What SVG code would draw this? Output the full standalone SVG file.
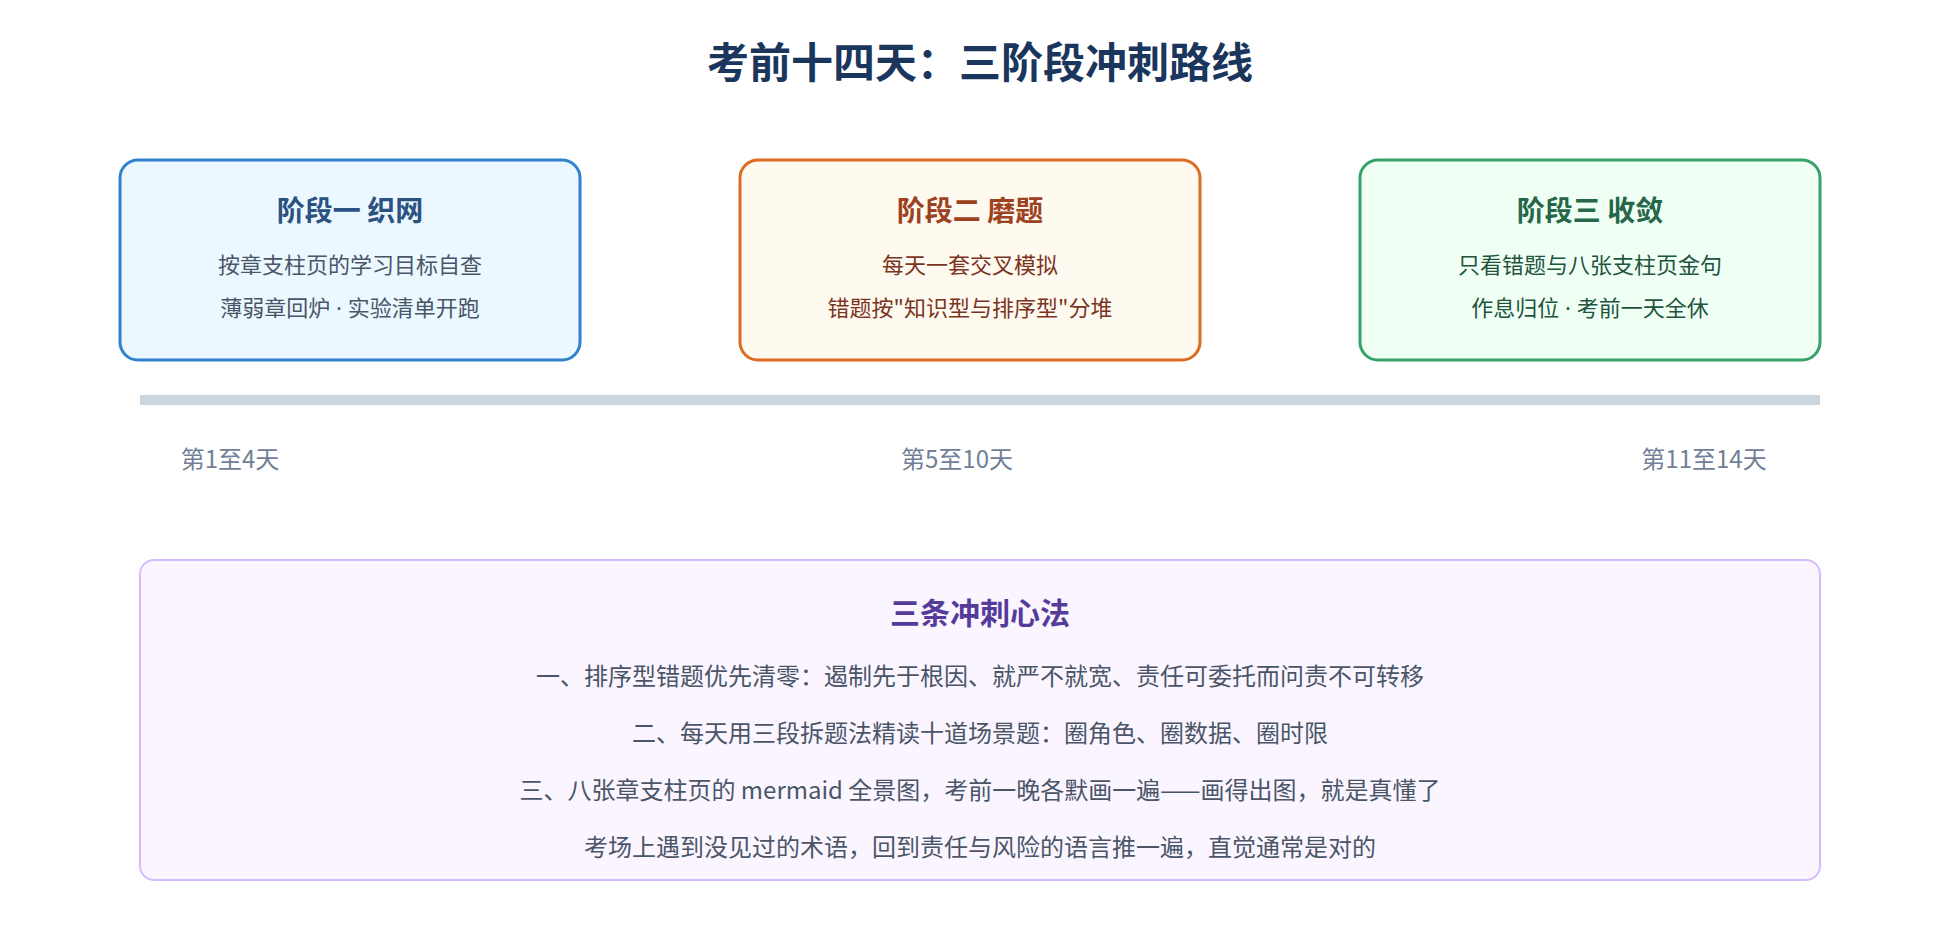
<svg xmlns="http://www.w3.org/2000/svg" width="1960" height="940" viewBox="0 0 1960 940">
<style>
text{font-family:"Noto Sans CJK SC","Noto Sans",sans-serif;text-anchor:middle}
.main{font-size:42px;font-weight:700;fill:#1a365d}
.ttl{font-size:28px;font-weight:700}
.ln{font-size:22px}
.dot{font-family:"Noto Sans","Liberation Sans",sans-serif}
.day{font-size:24px;fill:#718096}
.box{stroke-width:3}
.pt{font-size:30px;font-weight:700;fill:#553c9a}
.pl{font-size:24px;fill:#4a5568}
</style>
<rect width="1960" height="940" fill="#ffffff"/>
<text class="main" x="980" y="78">考前十四天：三阶段冲刺路线</text>
<g id="stage1">
<rect class="box" x="120" y="160" width="460" height="200" rx="18" fill="#ebf8ff" stroke="#3182ce"/>
<text class="ttl" x="350" y="221" fill="#2c5282">阶段一 织网</text>
<text class="ln" x="350" y="273" fill="#4a5568">按章支柱页的学习目标自查</text>
<text class="ln" x="350" y="316" fill="#4a5568">薄弱章回炉<tspan class="dot"> · </tspan>实验清单开跑</text>
</g>
<g id="stage2">
<rect class="box" x="740" y="160" width="460" height="200" rx="18" fill="#fffaf0" stroke="#dd6b20"/>
<text class="ttl" x="970" y="221" fill="#9c4221">阶段二 磨题</text>
<text class="ln" x="970" y="273" fill="#7b341e">每天一套交叉模拟</text>
<text class="ln" x="970" y="316" fill="#7b341e">错题按"知识型与排序型"分堆</text>
</g>
<g id="stage3">
<rect class="box" x="1360" y="160" width="460" height="200" rx="18" fill="#f0fff4" stroke="#38a169"/>
<text class="ttl" x="1590" y="221" fill="#276749">阶段三 收敛</text>
<text class="ln" x="1590" y="273" fill="#22543d">只看错题与八张支柱页金句</text>
<text class="ln" x="1590" y="316" fill="#22543d">作息归位<tspan class="dot"> · </tspan>考前一天全休</text>
</g>
<g id="timeline">
<rect x="140" y="395" width="1680" height="10" fill="#cbd5e0"/>
<text class="day" x="230" y="468">第1至4天</text>
<text class="day" x="957" y="468">第5至10天</text>
<text class="day" x="1704" y="468">第11至14天</text>
</g>
<g id="tips">
<rect x="140" y="560" width="1680" height="320" rx="14" fill="#faf5ff" stroke="#d6bcfa" stroke-width="2"/>
<text class="pt" x="980" y="624">三条冲刺心法</text>
<text class="pl" x="980" y="685">一、排序型错题优先清零：遏制先于根因、就严不就宽、责任可委托而问责不可转移</text>
<text class="pl" x="980" y="742">二、每天用三段拆题法精读十道场景题：圈角色、圈数据、圈时限</text>
<text class="pl" x="980" y="799">三、八张章支柱页的 mermaid 全景图，考前一晚各默画一遍——画得出图，就是真懂了</text>
<text class="pl" x="980" y="856">考场上遇到没见过的术语，回到责任与风险的语言推一遍，直觉通常是对的</text>
</g>
</svg>
